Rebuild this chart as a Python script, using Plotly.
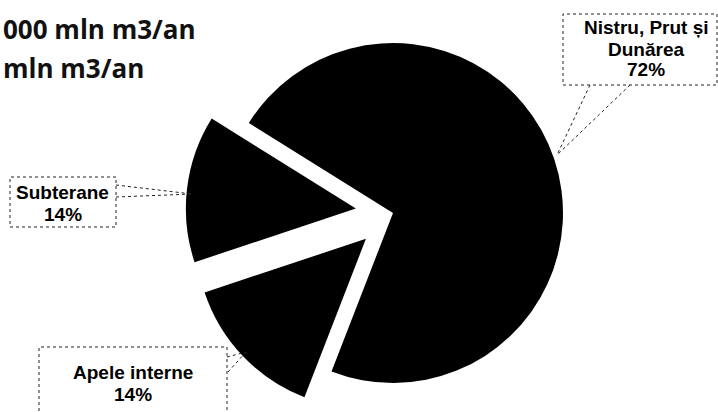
import math
import plotly.graph_objects as go

# ---- data ----
labels = ["Nistru, Prut și Dunărea", "Apele interne", "Subterane"]
values = [72, 14, 14]
pulls = [0.0, 0.22, 0.22]
label_lines = [["Nistru, Prut și", "Dunărea", "72%"], ["Apele interne", "14%"], ["Subterane", "14%"]]
title_lines = ["000 mln m3/an", "mln m3/an"]

# ---- layout constants (pixels) ----
W, H = 718, 412
CX, CY, R = 393, 213, 170
ROT = -58  # degrees clockwise from 12 o'clock where first slice starts

fig = go.Figure()
total = sum(values)
start = ROT
for i, v in enumerate(values):
    span = 360.0 * v / total
    mid = math.radians(start + span / 2)
    off = pulls[i] * R
    cx = CX + off * math.sin(mid)
    cy = CY - off * math.cos(mid)
    colors = ["rgba(0,0,0,0)"] * len(values)
    colors[i] = "#000000"
    fig.add_trace(go.Pie(
        labels=labels, values=values, sort=False, direction="clockwise",
        rotation=ROT, marker=dict(colors=colors, line=dict(width=0)),
        textinfo="none", hoverinfo="label+percent", showlegend=False,
        domain=dict(x=[(cx - R) / W, (cx + R) / W],
                    y=[(H - cy - R) / H, (H - cy + R) / H]),
    ))
    start += span

def px(x):
    return x / W

def py(y):
    return 1 - y / H

annotations = []
# title lines
annotations.append(dict(x=px(1), y=py(29), text="<b>" + title_lines[0] + "</b>", showarrow=False,
                        xanchor="left", yanchor="middle",
                        font=dict(family="Open Sans", size=26, color="#111")))
annotations.append(dict(x=px(1), y=py(68), text="<b>" + title_lines[1] + "</b>", showarrow=False,
                        xanchor="left", yanchor="middle",
                        font=dict(family="Open Sans", size=26, color="#111")))

label_pos = [
    (646, [28, 49, 69]),
    (133, [372, 394]),
    (63, [192, 214]),
]
for (lx, ys), lines in zip(label_pos, label_lines):
    for y, t in zip(ys, lines):
        annotations.append(dict(x=px(lx), y=py(y), text="<b>" + t + "</b>", showarrow=False,
                                xanchor="center", yanchor="middle",
                                font=dict(family="Liberation Sans", size=19, color="#000")))

dot = dict(color="#222222", width=1, dash="dot")
shapes = []
# label boxes
for x0, y0, x1, y1 in [(563, 14, 717, 85), (39, 347, 227, 420), (10, 177, 116, 227)]:
    shapes.append(dict(type="rect", xref="paper", yref="paper",
                       x0=px(x0), x1=px(x1), y0=py(y1), y1=py(y0), line=dot))
# callout pointers
for (xa, ya), (xb, yb) in [((590, 85), (557, 155)), ((630, 85), (557, 155)),
                            ((227, 357), (246, 352)), ((228, 372), (246, 352)),
                            ((116, 185), (192, 194)), ((116, 197), (192, 194))]:
    shapes.append(dict(type="line", xref="paper", yref="paper",
                       x0=px(xa), y0=py(ya), x1=px(xb), y1=py(yb), line=dot))

fig.update_layout(
    width=W, height=H, autosize=False,
    margin=dict(l=0, r=0, t=0, b=0),
    paper_bgcolor="white", plot_bgcolor="white",
    annotations=annotations, shapes=shapes,
)
fig.write_html("out.html", config={"displayModeBar": False},
               post_script="document.body.style.margin='0';document.body.style.overflow='hidden';")
